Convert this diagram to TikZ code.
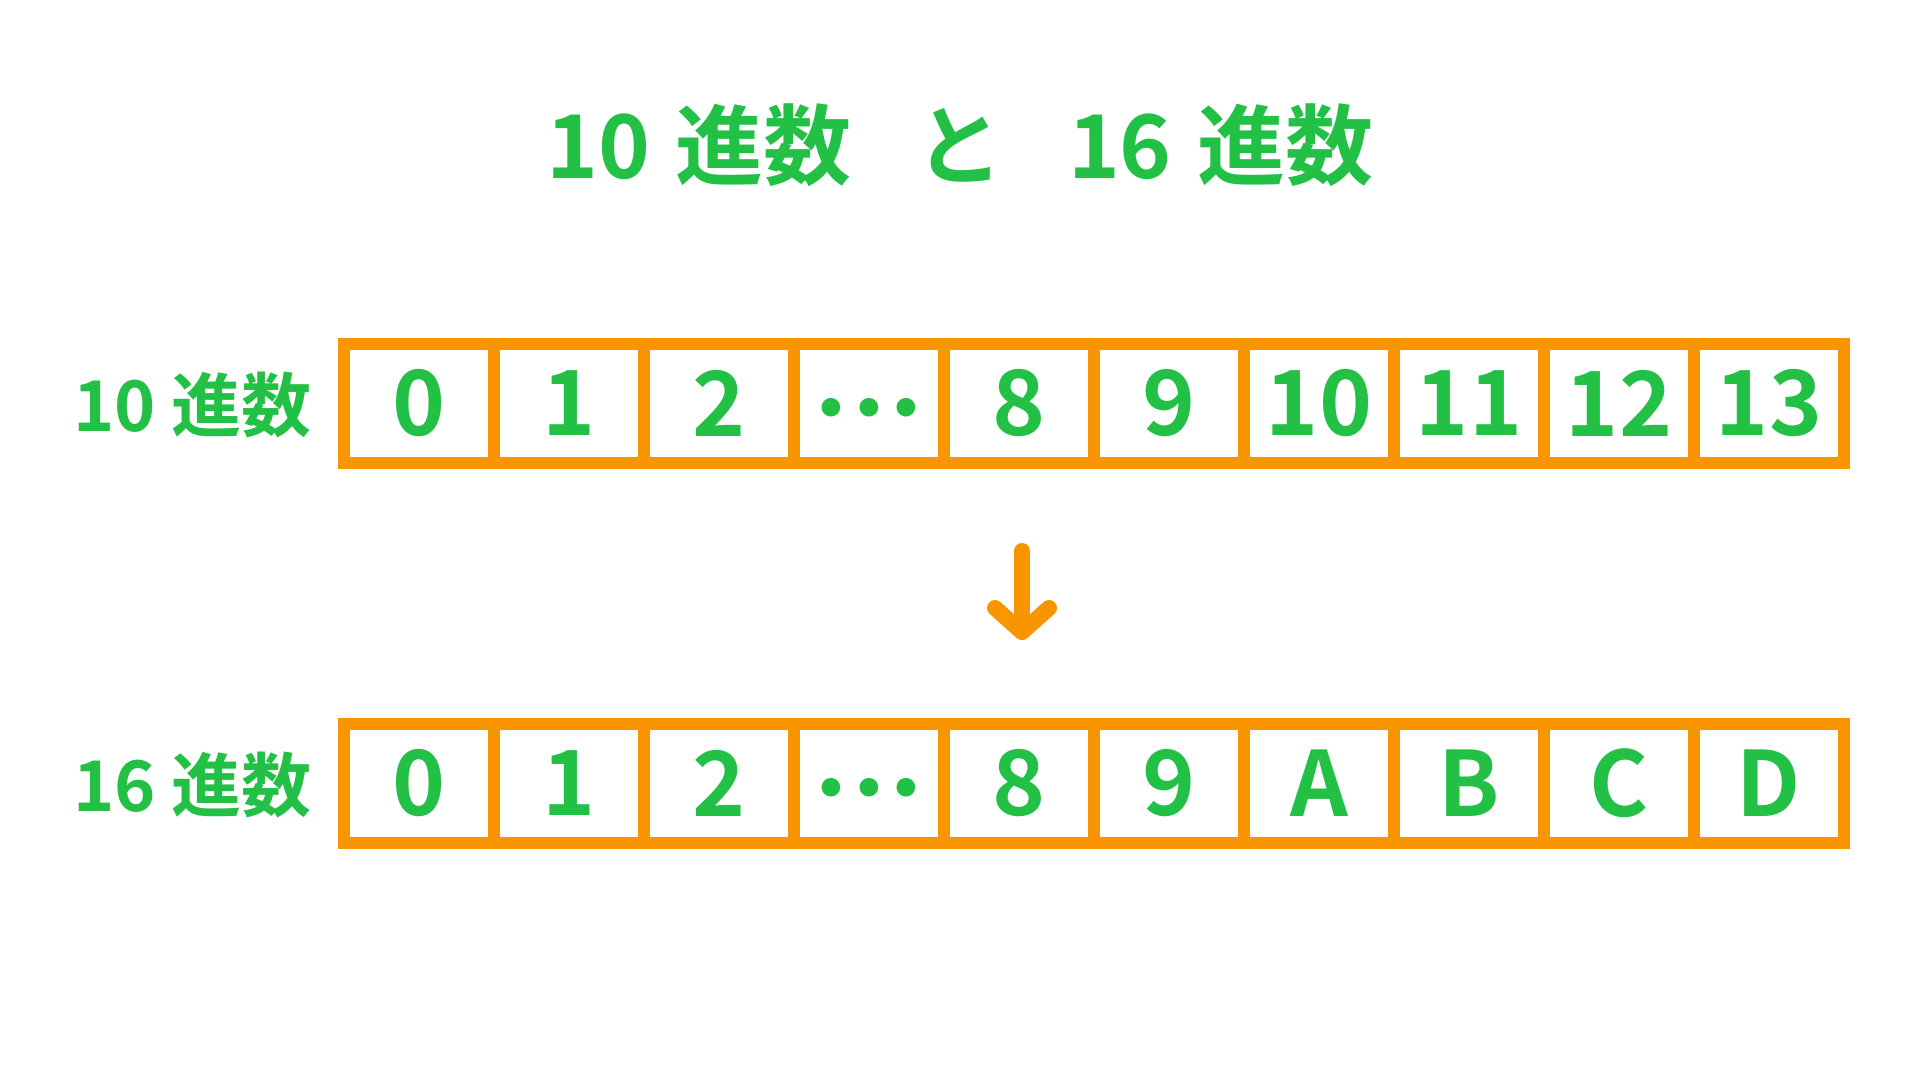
\documentclass[tikz,border=0pt]{standalone}
\usepackage{fontspec}
\usetikzlibrary{arrows.meta}
\newfontfamily\jpfont{Noto Sans CJK JP}[BoldFont={Noto Sans CJK JP Bold}]
\newfontfamily\dotfont{DejaVu Sans}
\definecolor{numgreen}{RGB}{34,192,68}
\definecolor{boxorange}{RGB}{249,149,0}

\begin{document}
\begin{tikzpicture}[x=1pt,y=-1pt,
  cell/.style={draw=boxorange, line width=12pt, minimum width=150pt, minimum height=119pt,
    inner sep=0pt, outer sep=0pt, text=numgreen, font=\jpfont\bfseries\fontsize{90}{90}\selectfont},
  dotcell/.style={cell, font=\dotfont\fontsize{64}{64}\selectfont},
  rowlabel/.style={anchor=east, inner sep=0pt, text=numgreen, font=\jpfont\bfseries\fontsize{70}{70}\selectfont}]

\useasboundingbox [fill=white] (0,0) rectangle (1920,1080);

% title
\node (title) at (960,145) [inner sep=0pt, text=numgreen, font=\jpfont\bfseries\fontsize{88}{88}\selectfont]
  {10\hspace{26pt}進数\hspace{64pt}と\hspace{64pt}16\hspace{26pt}進数};

% decimal row
\node (dlabel) at (312,405) [rowlabel] {10\hspace{16pt}進数};
\node (d0) at (419,403.5) [cell] {0};
\node (d1) at (569,403.5) [cell] {1};
\node (d2) at (719,403.5) [cell] {2};
\node (d3) at (869,403.5) [dotcell] {\raisebox{-28pt}[0pt][0pt]{•••}};
\node (d4) at (1019,403.5) [cell] {8};
\node (d5) at (1169,403.5) [cell] {9};
\node (d6) at (1319,403.5) [cell] {10};
\node (d7) at (1469,403.5) [cell] {11};
\node (d8) at (1619,403.5) [cell] {12};
\node (d9) at (1769,403.5) [cell] {13};

% arrow
\coordinate (arrtop) at (1022,551) ;
\coordinate (arrtip) at (1022,640) ;
\draw [boxorange, line width=16pt, line cap=round, -{Straight Barb[length=24pt, width=54pt, round]}] (arrtop) -- (arrtip) ;

% hexadecimal row
\node (hlabel) at (312,785) [rowlabel] {16\hspace{16pt}進数};
\node (h0) at (419,783.5) [cell] {0};
\node (h1) at (569,783.5) [cell] {1};
\node (h2) at (719,783.5) [cell] {2};
\node (h3) at (869,783.5) [dotcell] {\raisebox{-28pt}[0pt][0pt]{•••}};
\node (h4) at (1019,783.5) [cell] {8};
\node (h5) at (1169,783.5) [cell] {9};
\node (h6) at (1319,783.5) [cell] {A};
\node (h7) at (1469,783.5) [cell] {B};
\node (h8) at (1619,783.5) [cell] {C};
\node (h9) at (1769,783.5) [cell] {D};
\end{tikzpicture}
\end{document}
